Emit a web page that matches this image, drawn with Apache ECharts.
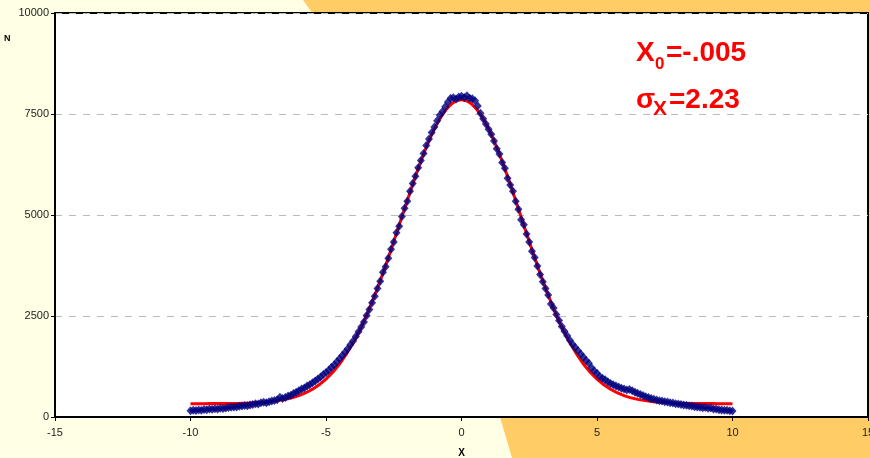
<!DOCTYPE html>
<html>
<head>
<meta charset="utf-8">
<script src="https://cdn.jsdelivr.net/npm/echarts@6/dist/echarts.min.js"></script>
<style>
html,body{margin:0;padding:0;background:#FFFFE6;}
#c{width:870px;height:458px;}
</style>
</head>
<body>
<div id="c"></div>
<script>
const xTicks = [-15, -10, -5, 0, 5, 10, 15];
const yTicks = [0, 2500, 5000, 7500, 10000];

const dataX = [-10,-9.9,-9.8,-9.7,-9.6,-9.5,-9.4,-9.3,-9.2,-9.1,-9,-8.9,-8.8,-8.7,-8.6,-8.5,-8.4,-8.3,-8.2,-8.1,
-8,-7.9,-7.8,-7.7,-7.6,-7.5,-7.4,-7.3,-7.2,-7.1,-7,-6.9,-6.8,-6.7,-6.6,-6.5,-6.4,-6.3,-6.2,-6.1,
-6,-5.9,-5.8,-5.7,-5.6,-5.5,-5.4,-5.3,-5.2,-5.1,-5,-4.9,-4.8,-4.7,-4.6,-4.5,-4.4,-4.3,-4.2,-4.1,
-4,-3.9,-3.8,-3.7,-3.6,-3.5,-3.4,-3.3,-3.2,-3.1,-3,-2.9,-2.8,-2.7,-2.6,-2.5,-2.4,-2.3,-2.2,-2.1,
-2,-1.9,-1.8,-1.7,-1.6,-1.5,-1.4,-1.3,-1.2,-1.1,-1,-0.9,-0.8,-0.7,-0.6,-0.5,-0.4,-0.3,-0.2,-0.1,
0,0.1,0.2,0.3,0.4,0.5,0.6,0.7,0.8,0.9,1,1.1,1.2,1.3,1.4,1.5,1.6,1.7,1.8,1.9,
2,2.1,2.2,2.3,2.4,2.5,2.6,2.7,2.8,2.9,3,3.1,3.2,3.3,3.4,3.5,3.6,3.7,3.8,3.9,
4,4.1,4.2,4.3,4.4,4.5,4.6,4.7,4.8,4.9,5,5.1,5.2,5.3,5.4,5.5,5.6,5.7,5.8,5.9,
6,6.1,6.2,6.3,6.4,6.5,6.6,6.7,6.8,6.9,7,7.1,7.2,7.3,7.4,7.5,7.6,7.7,7.8,7.9,
8,8.1,8.2,8.3,8.4,8.5,8.6,8.7,8.8,8.9,9,9.1,9.2,9.3,9.4,9.5,9.6,9.7,9.8,9.9,10];

const dataN = [155,165,160,175,170,185,180,195,190,205,200,215,210,225,235,240,250,245,265,270,
285,280,300,310,330,320,350,365,355,380,395,410,430,490,455,480,520,540,580,610,
650,690,720,770,800,850,890,940,990,1050,1100,1160,1230,1290,1370,1440,1520,1600,1690,1790,
1880,1990,2110,2230,2350,2510,2660,2830,2990,3180,3360,3580,3720,3930,4150,4330,4560,4720,4960,5170,
5340,5590,5780,5960,6170,6350,6520,6720,6880,7040,7180,7330,7470,7560,7680,7800,7890,7900,7870,7920,
7940,7910,7950,7890,7880,7830,7700,7520,7380,7250,7120,7000,6830,6640,6510,6300,6160,5910,5740,5590,
5340,5140,4880,4760,4530,4330,4100,3950,3740,3530,3350,3180,3020,2800,2700,2540,2390,2240,2120,2010,
1900,1800,1720,1640,1560,1480,1400,1330,1220,1140,1080,1000,960,920,870,830,800,770,740,710,
690,670,680,650,610,590,560,530,500,480,460,440,420,405,395,380,370,355,345,330,
320,310,300,290,280,270,255,250,240,230,235,215,220,200,195,180,175,165,170,155,150];

const fitX = [-10,-9.5,-9,-8.5,-8,-7.5,-7,-6.5,-6,-5.5,-5,-4.5,-4,-3.5,-3,-2.5,-2,-1.5,-1,-0.5,
0,0.5,1,1.5,2,2.5,3,3.5,4,4.5,5,5.5,6,6.5,7,7.5,8,8.5,9,9.5,10];
const fitN = [330,331,332,335,342,356,385,437,531,689,939,1312,1835,2524,3373,4341,5360,6327,7131,7663,
7850,7663,7131,6327,5360,4341,3373,2524,1835,1312,939,689,531,437,385,356,342,335,332,331,330];

const chart = echarts.init(document.getElementById('c'), null, {renderer: 'canvas'});
const font = 'Liberation Sans, Arial, sans-serif';
const red = '#FF0000';

chart.setOption({
  backgroundColor: '#FFFFE6',
  animation: false,
  grid: {left: 55, right: 2, top: 13, bottom: 41, containLabel: false, outerBoundsMode: 'none',
         show: true, backgroundColor: '#FFFFFF', borderColor: '#000', borderWidth: 2},
  xAxis: {
    type: 'value', min: xTicks[0], max: xTicks[xTicks.length-1], interval: 5,
    name: 'X', nameLocation: 'middle', nameGap: 31,
    nameTextStyle: {fontFamily: font, fontWeight: 'bold', fontSize: 10, color: '#000'},
    axisLine: {onZero: false, lineStyle: {color: '#000', width: 2}},
    axisTick: {length: 4, lineStyle: {color: '#000'}},
    axisLabel: {fontFamily: font, fontSize: 11, color: '#222', margin: 10, formatter: v => String(v)},
    splitLine: {show: false}
  },
  yAxis: {
    type: 'value', min: yTicks[0], max: yTicks[yTicks.length-1], interval: 2500,
    axisLine: {show: true, onZero: false, lineStyle: {color: '#000', width: 2}},
    axisTick: {show: true, length: 4, lineStyle: {color: '#000'}},
    axisLabel: {fontFamily: font, fontSize: 11, color: '#222', margin: 6, formatter: v => String(v)},
    splitLine: {show: true, lineStyle: {color: '#BBBBBB', type: [7, 7], width: 1}}
  },
  graphic: [
    {type: 'polygon', z: -10, silent: true, shape: {points: [[303,0],[870,0],[870,14],[313,14]]}, style: {fill: '#FFCC66'}},
    {type: 'polygon', z: -10, silent: true, shape: {points: [[500,417],[870,417],[870,458],[512,458]]}, style: {fill: '#FFCC66'}},
    {type: 'rect', z: -10, silent: true, shape: {x: 866, y: 0, width: 4, height: 458}, style: {fill: '#FFCC66'}},
    {type: 'text', left: 4, top: 34, style: {text: 'N', font: 'bold 9px ' + font, fill: '#000'}},
    {type: 'text', x: 636, y: 53, style: {text: 'X', font: 'bold 28px ' + font, fill: red, verticalAlign: 'middle'}},
    {type: 'text', x: 655, y: 64, style: {text: '0', font: 'bold 17px ' + font, fill: red, verticalAlign: 'middle'}},
    {type: 'text', x: 666, y: 53, style: {text: '=-.005', font: 'bold 28px ' + font, fill: red, verticalAlign: 'middle'}},
    {type: 'text', x: 636, y: 100, style: {text: 'σ', font: 'bold 28px ' + font, fill: red, verticalAlign: 'middle'}},
    {type: 'text', x: 653, y: 109, style: {text: 'X', font: 'bold 21px ' + font, fill: red, verticalAlign: 'middle'}},
    {type: 'text', x: 669, y: 100, style: {text: '=2.23', font: 'bold 28px ' + font, fill: red, verticalAlign: 'middle'}}
  ],
  series: [
    {
      type: 'line', name: 'fit', z: 2,
      data: fitX.map((x, i) => [x, fitN[i]]),
      smooth: 0.35, showSymbol: false, symbol: 'none',
      lineStyle: {color: red, width: 3}
    },
    {
      type: 'scatter', name: 'data', z: 3,
      data: dataX.map((x, i) => [x, dataN[i]]),
      symbol: 'diamond', symbolSize: [8, 9],
      itemStyle: {color: '#000080'}
    }
  ]
});
</script>
</body>
</html>
